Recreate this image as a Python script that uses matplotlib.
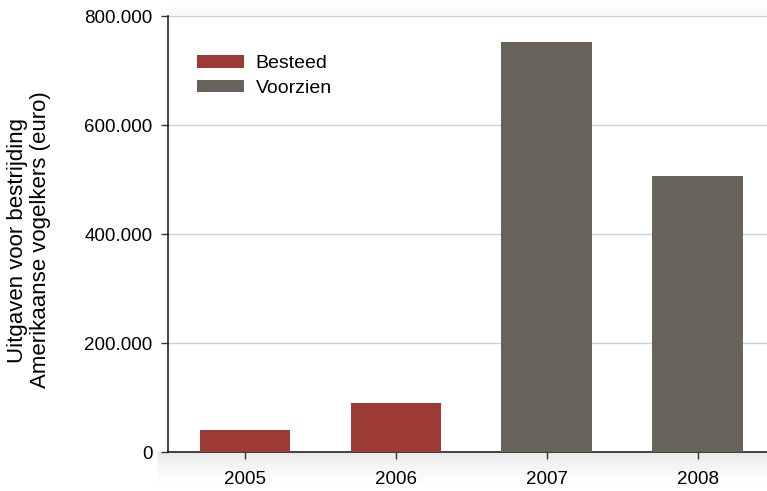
import matplotlib.pyplot as plt
import numpy as np

plt.rc('font', family=['Liberation Sans', 'DejaVu Sans'])

years = ['2005', '2006', '2007', '2008']
besteed = [40000, 90000, 0, 0]
voorzien = [0, 0, 753000, 506000]
yticks = [0, 200000, 400000, 600000, 800000]
ytick_labels = ['0', '200.000', '400.000', '600.000', '800.000']

red = '#9c3b36'
grey = '#68635a'

fig = plt.figure(figsize=(7.67, 4.91), dpi=100)
ax = fig.add_axes([0.219, 0.0794, 0.781, 0.8880])

# soft drop shadow round the plot area
sh = fig.add_axes([0.205, 0.0, 0.795, 0.0794], zorder=-1)
grad = np.linspace(1, 0, 40)[:, None] ** 1.5
sh.imshow(grad * np.ones((1, 10)), aspect='auto', cmap='Greys', vmin=0, vmax=6,
          extent=[0, 1, 0, 1])
sh.axis('off')
sh2 = fig.add_axes([0.219, 0.967, 0.781, 0.02], zorder=-1)
sh2.imshow(np.linspace(0, 1, 20)[:, None] * np.ones((1, 10)), aspect='auto',
           cmap='Greys', vmin=0, vmax=12, extent=[0, 1, 0, 1])
sh2.axis('off')

x = np.arange(len(years))
ax.bar(x, besteed, width=0.6, color=red, label='Besteed', zorder=3)
ax.bar(x, voorzien, width=0.6, color=grey, label='Voorzien', zorder=3)

ax.set_xlim(-0.51, 3.46)
ax.set_ylim(0, 800000)
ax.set_xticks(x)
ax.set_xticklabels(years)
ax.set_yticks(yticks)
ax.set_yticklabels(ytick_labels)
ax.tick_params(labelsize=13.5, direction='out', length=5, width=1, color='#333333')
ax.tick_params(axis='x', pad=9)
ax.tick_params(axis='y', pad=6)

ax.grid(True, axis='y', color='#c5d2da', linewidth=1)
ax.set_axisbelow(True)
for s in ['top', 'right']:
    ax.spines[s].set_visible(False)
for s in ['left', 'bottom']:
    ax.spines[s].set_color('#222222')
    ax.spines[s].set_linewidth(1.2)

ax.set_ylabel('Uitgaven voor bestrijding\nAmerikaanse vogelkers (euro)', fontsize=16,
              linespacing=1.12)
ax.yaxis.set_label_coords(-0.196, 0.486)

ax.legend(loc='upper left', bbox_to_anchor=(0.033, 0.933), frameon=False, fontsize=14,
          borderpad=0, handlelength=2.4, handleheight=0.62, handletextpad=0.6,
          labelspacing=0.4)

plt.savefig('out.png')
